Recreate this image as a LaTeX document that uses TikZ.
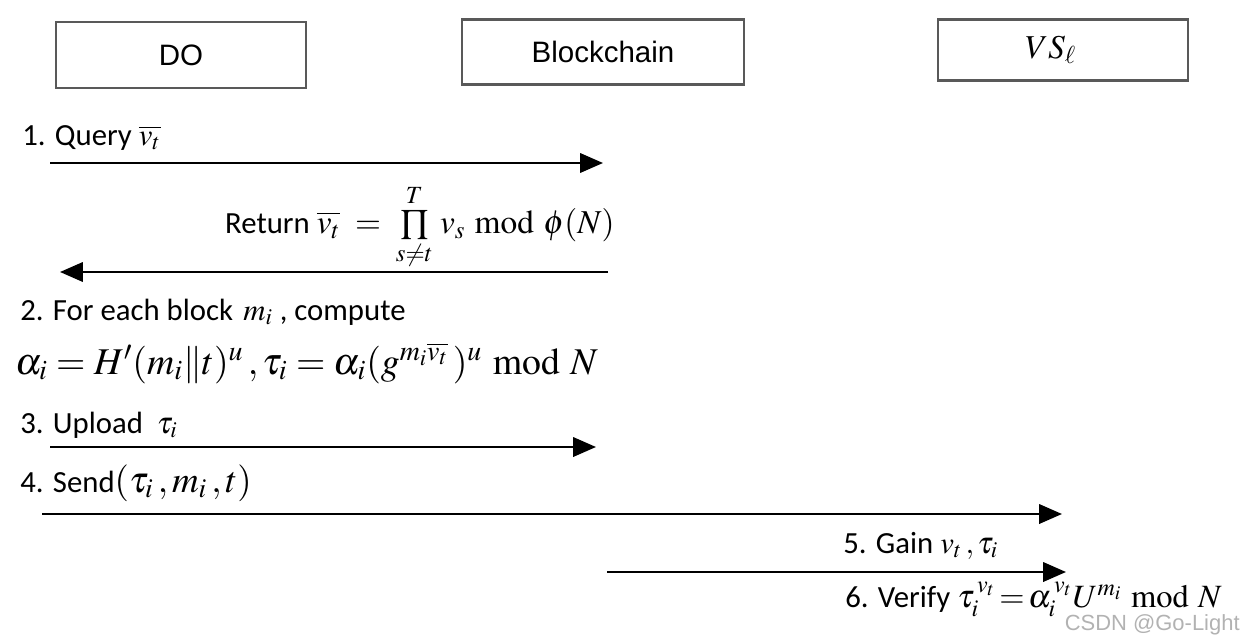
\documentclass[tikz,border=0pt]{standalone}
\usepackage{mathptmx}
\usepackage[no-math]{fontspec}
\setmainfont{Carlito}
\newfontfamily\boxfont{Liberation Sans}
\usetikzlibrary{arrows.meta,positioning}
\tikzstyle{line} = [draw, line width=1.4pt, -{Triangle[length=13pt,width=11pt]}]
\tikzstyle{actor} = [draw=black!65, line width=1.3pt, rectangle, text centered, inner sep=0pt, font=\boxfont\fontsize{16.8}{20}\selectfont]
\tikzstyle{msg} = [anchor=base west, inner sep=0pt, font=\fontsize{17.5}{21}\selectfont]

\begin{document}
\begin{tikzpicture}[x=0.02cm, y=-0.02cm]
        \useasboundingbox (0,0) rectangle (1244,639);
        % participants
        \node[actor, minimum width=5cm, minimum height=1.32cm] (do) at (181,55) {DO};
        \node[actor, minimum width=5.64cm, minimum height=1.3cm] (bc) at (603,52) {Blockchain};
        \node[actor, minimum width=5cm, minimum height=1.22cm, font=\fontsize{19}{22}\selectfont] (vs) at (1063,50) {$VS_\ell$\hspace*{14pt}};
        % arrow ends
        \coordinate (querys) at (50,163);
        \coordinate (querye) at (603,163);
        \coordinate (returns) at (608,272);
        \coordinate (returne) at (60,272);
        \coordinate (uploads) at (50,447);
        \coordinate (uploade) at (596,447);
        \coordinate (sends) at (42,514);
        \coordinate (sende) at (1062,514);
        \coordinate (gains) at (607,572);
        \coordinate (gaine) at (1066,572);
        % messages
        \node[msg] (query) at (22,145) {1. Query $\overline{v_t}$};
        \node[msg, anchor=base east] (return) at (615,233) {Return {\fontsize{19}{22}\selectfont$\overline{v_t}\;=\;\prod\limits_{s\neq t}^{T}\, v_s \bmod \phi(N)$}};
        \node[msg] (compute) at (20,320) {2. For each block $\,m_i$ , compute};
        \node[msg, font=\fontsize{21.5}{25}\selectfont] (tag) at (15,374) {$\alpha_i = H'(m_i\|t)^u\,, \tau_i = \alpha_i(g^{m_i\overline{v_t}}\,)^u \bmod N$};
        \node[msg] (upload) at (20,433) {3. Upload $\;\tau_i$};
        \node[msg] (send) at (20,492) {4. Send{\fontsize{21}{25}\selectfont$(\tau_i\,, m_i\,, t)$}};
        \node[msg] (gain) at (843,553) {5. Gain $v_t\,, \tau_i$};
        \node[msg] (verify) at (845,607) {6. Verify {\fontsize{18.5}{22}\selectfont$\tau_i^{\,v_t}\!=\!\alpha_i^{\,v_t} U^{m_i} \bmod N$}};
        \node[anchor=base east, inner sep=0pt, text=black!30, font=\boxfont\fontsize{12.5}{15}\selectfont] (mark) at (1240,630) {CSDN @Go-Light};
        % connectors
        \path[line] (querys) -- (querye);
        \path[line] (returns) -- (returne);
        \path[line] (uploads) -- (uploade);
        \path[line] (sends) -- (sende);
        \path[line] (gains) -- (gaine);
    \end{tikzpicture}
\end{document}
